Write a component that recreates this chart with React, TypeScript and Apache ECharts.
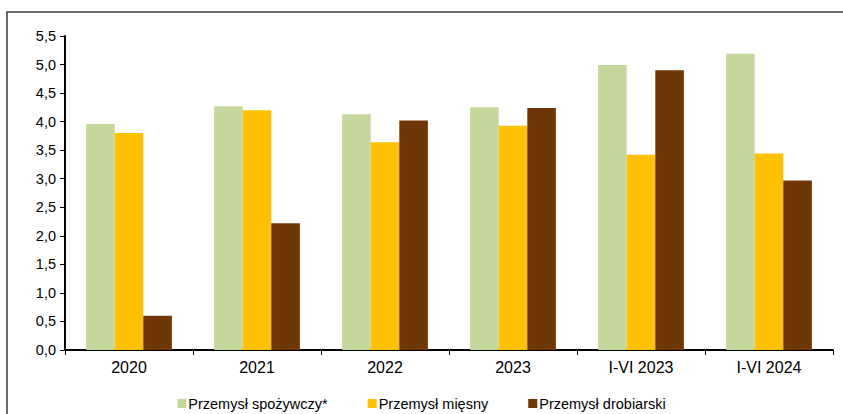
import React, { useEffect, useRef } from "react";
import * as echarts from "echarts";

const categories = ["2020", "2021", "2022", "2023", "I-VI 2023", "I-VI 2024"];
const seriesNames = ["Przemysł spożywczy*", "Przemysł mięsny", "Przemysł drobiarski"];
const spozywczy = [3.96, 4.27, 4.13, 4.25, 4.99, 5.19];
const miesny = [3.8, 4.2, 3.64, 3.93, 3.42, 3.44];
const drobiarski = [0.6, 2.22, 4.02, 4.24, 4.9, 2.97];
const colors = ["#C4D79B", "#FFC000", "#713605"];

export default function App() {
  const ref = useRef<HTMLDivElement>(null);
  useEffect(() => {
    if (!ref.current) return;
    const chart = echarts.init(ref.current, undefined, { renderer: "svg" });
    const font = "Liberation Sans, Arial, sans-serif";
    const data = [spozywczy, miesny, drobiarski];
    chart.setOption({
      animation: false,
      backgroundColor: "#ffffff",
      grid: { left: 65, right: 10, top: 36, bottom: 64 },
      graphic: [
        {
          type: "rect",
          shape: { x: 7, y: 12, width: 900, height: 500 },
          style: { fill: "none", stroke: "#3a3a3a", lineWidth: 1.5 },
          silent: true,
        },
      ],
      legend: {
        top: 396,
        left: "center",
        padding: 0,
        icon: "rect",
        itemWidth: 9,
        itemHeight: 9,
        itemGap: 40,
        textStyle: { fontFamily: font, fontSize: 14.5, color: "#000", padding: [0, 0, 0, -3] },
        data: seriesNames,
      },
      xAxis: {
        type: "category",
        data: categories,
        axisLine: { lineStyle: { color: "#000", width: 2 } },
        axisTick: { show: true, length: 5, lineStyle: { color: "#000", width: 1 } },
        axisLabel: { fontFamily: font, fontSize: 16, color: "#000", margin: 9 },
      },
      yAxis: {
        type: "value",
        min: 0,
        max: 5.5,
        interval: 0.5,
        splitLine: { show: false },
        axisLine: { show: true, lineStyle: { color: "#000", width: 2 } },
        axisTick: { show: true, length: 5, lineStyle: { color: "#000", width: 1 } },
        axisLabel: {
          fontFamily: font,
          fontSize: 14.5,
          color: "#000",
          margin: 9,
          formatter: (v: number) => v.toFixed(1).replace(".", ","),
        },
      },
      series: seriesNames.map((name, i) => ({
        name,
        type: "bar",
        data: data[i],
        barGap: "0%",
        barCategoryGap: "33%",
        itemStyle: { color: colors[i] },
      })),
    });
    return () => chart.dispose();
  }, []);
  return (
    <div
      ref={ref}
      style={{ position: "fixed", left: 0, top: 0, width: 843, height: 414 }}
    />
  );
}
